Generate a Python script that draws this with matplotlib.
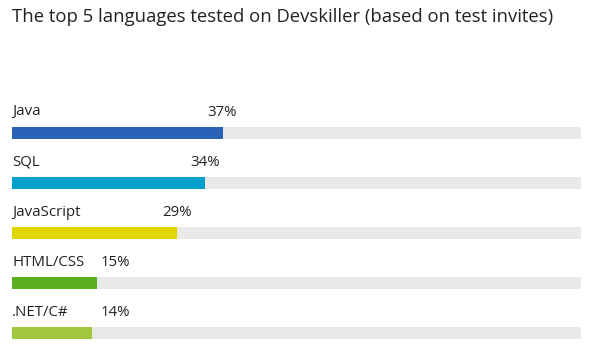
import matplotlib.pyplot as plt

# donnees
langages = ["Java", "SQL", "JavaScript", "HTML/CSS", ".NET/C#"]
pourcents = [37, 34, 29, 15, 14]
couleurs = ["#2a62b8", "#00a0cc", "#e0d600", "#5aaf21", "#a1c73c"]

plt.rcParams['font.family'] = ['Open Sans', 'DejaVu Sans']

fig = plt.figure(figsize=(6, 3.6), dpi=100)
# axes : de x=12 a x=581 px, de y=100 a y=350 px
ax = fig.add_axes([12 / 600, 10 / 360, 569 / 600, 250 / 360])
ax.set_xlim(0, 100)
ax.set_ylim(4.34, -0.66)
ax.axis('off')

pos = list(range(len(langages)))
ax.barh(pos, [100] * len(pos), height=0.24, color="#e9e9e9")
ax.barh(pos, pourcents, height=0.24, color=couleurs)

for i, (nom, v) in enumerate(zip(langages, pourcents)):
    ax.text(0, i - 0.42, nom, ha='left', va='center', fontsize=10.8, color="#222222")
    ax.text(max(v, 18.2), i - 0.42, f"{v}%", ha='center', va='center', fontsize=10.8, color="#222222")

fig.text(12 / 600, 1 - 17 / 360, "The top 5 languages tested on Devskiller (based on test invites)",
         ha='left', va='center', fontsize=13.3, color="#222222")

fig.savefig("out.png", dpi=100)
